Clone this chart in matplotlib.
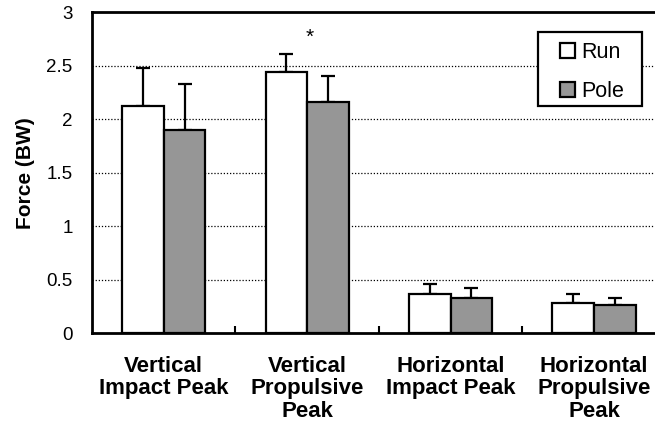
import numpy as np
from matplotlib import pyplot as plt
from matplotlib.ticker import FixedLocator
from matplotlib.patches import Rectangle

plt.rcParams['font.family'] = ['Liberation Sans', 'DejaVu Sans']

categories = ['Vertical\nImpact Peak', 'Vertical\nPropulsive\nPeak',
              'Horizontal\nImpact Peak', 'Horizontal\nPropulsive\nPeak']
run = [2.12, 2.44, 0.37, 0.28]
run_err = [0.36, 0.17, 0.09, 0.09]
pole = [1.90, 2.16, 0.33, 0.26]
pole_err = [0.43, 0.24, 0.09, 0.07]
y_ticks = [0, 0.5, 1, 1.5, 2, 2.5, 3]
y_labels = ['0', '0.5', '1', '1.5', '2', '2.5', '3']

fig = plt.figure(figsize=(6.55, 4.4), dpi=100)
ax = fig.add_axes([0.1405, 0.2425, 0.876, 0.7302])

x = np.arange(len(categories))
w = 0.29
lw = 1.6
ax.bar(x - w/2, run, w, color='white', edgecolor='black', linewidth=lw,
       label='Run', zorder=3)
ax.bar(x + w/2, pole, w, color='#969696', edgecolor='black', linewidth=lw,
       label='Pole', zorder=3)
ax.errorbar(x - w/2, run, yerr=[np.zeros(4), run_err], fmt='none',
            ecolor='black', elinewidth=lw, capsize=5, capthick=lw, zorder=2)
ax.errorbar(x + w/2, pole, yerr=[np.zeros(4), pole_err], fmt='none',
            ecolor='black', elinewidth=lw, capsize=5, capthick=lw, zorder=2)

# significance marker
ax.text(1.02, 2.76, '*', ha='center', va='center', fontsize=15)

ax.set_xlim(-0.5, 3.5)
ax.set_ylim(0, 3)
ax.set_yticks(y_ticks)
ax.set_yticklabels(y_labels, fontsize=13.5)
ax.tick_params(axis='y', length=0, pad=14)
for v in y_ticks[1:-1]:
    ax.axhline(v, color='black', linestyle=(0, (1, 1.5)), linewidth=0.9, zorder=1)

ax.set_xticks(x)
ax.set_xticklabels(categories, fontsize=16, fontweight='bold',
                   linespacing=1.1)
ax.tick_params(axis='x', which='major', length=0, pad=16)
ax.xaxis.set_minor_locator(FixedLocator([0.5, 1.5, 2.5]))
ax.tick_params(axis='x', which='minor', direction='in', length=5, width=1.5)

ax.set_ylabel('Force (BW)', fontsize=15, fontweight='bold', labelpad=8)

for s in ['left', 'bottom', 'top']:
    ax.spines[s].set_linewidth(2)
ax.spines['right'].set_visible(False)

# legend box drawn separately so the padding matches
ax.add_patch(Rectangle((0.7765, 0.7074), 0.9587 - 0.7765, 0.9387 - 0.7074,
                       transform=ax.transAxes, facecolor='white',
                       edgecolor='black', linewidth=1.6, zorder=4))
leg = ax.legend(loc='upper left', bbox_to_anchor=(0.815, 0.907),
                fontsize=15.5, handlelength=0.72, handleheight=0.72,
                handletextpad=0.3, frameon=False, borderpad=0,
                borderaxespad=0, labelspacing=0.85)
leg.set_zorder(5)

plt.savefig('out.png', dpi=100)
